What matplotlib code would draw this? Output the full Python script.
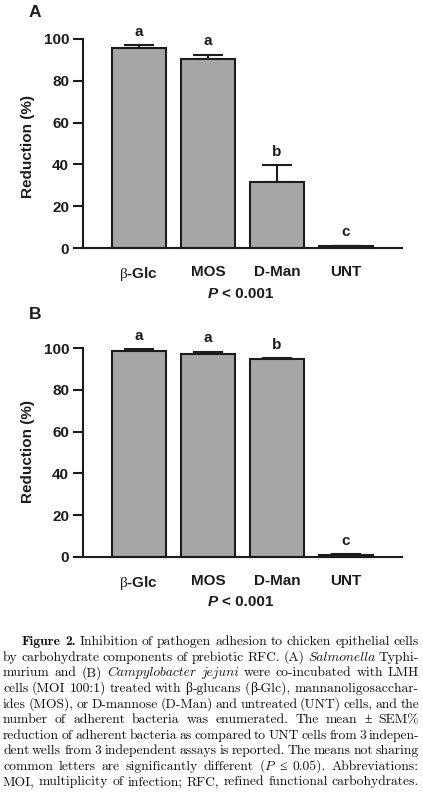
import numpy as np
import matplotlib.pyplot as plt
from matplotlib.font_manager import FontProperties

# Data
groups = [r'$\mathrm{\beta}$-Glc', 'MOS', 'D-Man', 'UNT']
red_a = [95.5, 90.5, 31.5, 0.8]
sem_a = [1.5, 2.0, 8.0, 0.3]
let_a = ['a', 'a', 'b', 'c']
red_b = [98.5, 97.0, 94.5, 1.0]
sem_b = [1.0, 1.2, 0.6, 0.3]
let_b = ['a', 'a', 'b', 'c']

caption = [
    "#Figure 2.# Inhibition of pathogen adhesion to chicken epithelial cells",
    "by carbohydrate components of prebiotic RFC. (A) _Salmonella_ Typhi-",
    "murium and (B) _Campylobacter jejuni_ were co-incubated with LMH",
    "cells (MOI 100:1) treated with β-glucans (β-Glc), mannanoligosacchar-",
    "ides (MOS), or D-mannose (D-Man) and untreated (UNT) cells, and the",
    "number of adherent bacteria was enumerated. The mean ± SEM%",
    "reduction of adherent bacteria as compared to UNT cells from 3 indepen-",
    "dent wells from 3 independent assays is reported. The means not sharing",
    "common letters are significantly different (_P_ ≤ 0.05). Abbreviations:",
    "MOI, multiplicity of infection; RFC, refined functional carbohydrates.",
]

plt.rcParams['font.family'] = 'Liberation Sans'
plt.rcParams['mathtext.fontset'] = 'custom'
plt.rcParams['mathtext.rm'] = 'Liberation Serif'

W, H = 423, 793
fig = plt.figure(figsize=(W / 100, H / 100), dpi=100)
ink = '#1c1c1c'
lfs = 11


def fx(x):
    return x / W


def fy(y):
    return 1 - y / H


def panel(top, bottom, vals, errs, letters, tag, tag_y, ylab_y, p_y):
    ax = fig.add_axes([fx(83), fy(bottom), (402 - 83) / W, (bottom - top) / H])
    x = np.arange(len(groups))
    ax.errorbar(x, vals, yerr=[np.zeros(len(vals)), errs], fmt='none',
                ecolor=ink, elinewidth=1.5, capsize=11, capthick=1.5, zorder=1)
    ax.bar(x, vals, width=0.78, color='#a6a6a6', edgecolor=ink,
           linewidth=1.5, zorder=2, clip_on=False)
    for i in range(len(vals)):
        ax.text(x[i], vals[i] + errs[i] + 3.0, letters[i], ha='center',
                va='bottom', fontsize=lfs, fontweight='bold', color=ink)
    ax.set_xlim(-0.81, 3.81)
    ax.set_ylim(0, 100)
    ax.set_yticks([0, 20, 40, 60, 80, 100])
    ax.set_xticks(x)
    ax.set_xticklabels(groups, fontsize=lfs, fontweight='bold')
    ax.tick_params(axis='y', length=7, width=1.5, pad=3, labelsize=lfs, colors=ink)
    ax.tick_params(axis='x', length=0, pad=12, colors=ink)
    for t in ax.get_yticklabels():
        t.set_fontweight('bold')
    for s in ['top', 'right']:
        ax.spines[s].set_visible(False)
    for s in ['left', 'bottom']:
        ax.spines[s].set_linewidth(1.5)
        ax.spines[s].set_color(ink)
    fig.text(fx(28), fy(ylab_y), 'Reduction (%)', rotation=90, ha='center',
             va='center', fontsize=lfs, fontweight='bold', color=ink)
    fig.text(fx(35), fy(tag_y), tag, ha='center', va='center', fontsize=12.5,
             fontweight='bold', color=ink)
    fig.text(fx(218), fy(p_y), 'P', ha='right', va='center', fontsize=lfs,
             fontweight='bold', style='italic', color=ink)
    fig.text(fx(222), fy(p_y), '< 0.001', ha='left', va='center', fontsize=lfs,
             fontweight='bold', color=ink)
    return ax


panel(39, 248, red_a, sem_a, let_a, 'A', 12.5, 146, 294)
panel(348, 557, red_b, sem_b, let_b, 'B', 314.5, 451, 601.5)

# Caption, justified word by word
fs = 9.8
fp = {
    'r': FontProperties(family=['cmr10', 'DejaVu Serif'], size=fs),
    'b': FontProperties(family=['cmb10', 'DejaVu Serif'], size=fs),
    'i': FontProperties(family=['cmmi10', 'DejaVu Serif'], size=fs),
    's': FontProperties(family='Liberation Serif', size=fs),
}
renderer = fig.canvas.get_renderer()


def width(s, prop):
    return renderer.get_text_width_height_descent(s, prop, ismath=False)[0]


state = {'b': False, 'i': False}


def cur():
    return 'b' if state['b'] else ('i' if state['i'] else 'r')


line_y = [641.7, 657.3, 672.9, 688.4, 704.0, 719.5, 735.1, 750.6, 766.2, 781.7]
for k, line in enumerate(caption):
    words = []
    for w in line.split(' '):
        segs = []
        buf = ''
        for ch in w:
            if ch in '#_':
                if buf:
                    segs.append((buf, cur()))
                    buf = ''
                key = 'b' if ch == '#' else 'i'
                state[key] = not state[key]
            elif ord(ch) > 127:
                if buf:
                    segs.append((buf, cur()))
                    buf = ''
                segs.append((ch, 's'))
            else:
                buf += ch
        if buf:
            segs.append((buf, cur()))
        words.append(segs)
    x0 = 22 if k == 0 else 3
    x1 = 419
    ww = [sum(width(s, fp[st]) for s, st in segs) for segs in words]
    gap = (x1 - x0 - sum(ww)) / (len(words) - 1)
    xc = x0
    for segs, wdt in zip(words, ww):
        xs = xc
        for s, st in segs:
            fig.text(fx(xs), fy(line_y[k] + 3.5), s, fontproperties=fp[st],
                     ha='left', va='baseline', color='#111111')
            xs += width(s, fp[st])
        xc += wdt + gap

fig.savefig('out.png', dpi=100, facecolor='white')
